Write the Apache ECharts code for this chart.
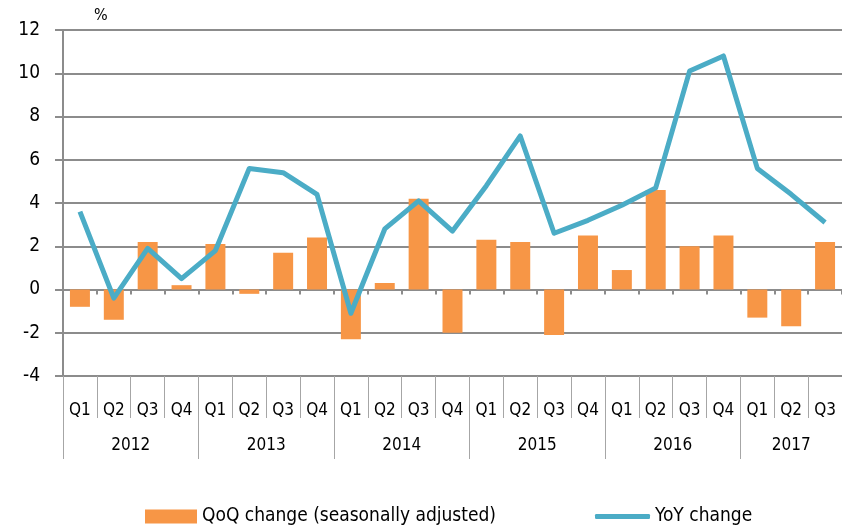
<!DOCTYPE html>
<html>
<head>
<meta charset="utf-8">
<script src="https://cdn.jsdelivr.net/npm/echarts@6/dist/echarts.min.js"></script>
<style>
  html, body { margin: 0; padding: 0; background: #fff; }
  #chart { width: 842px; height: 528px; }
</style>
</head>
<body>
<div id="chart"></div>
<script>
// chart data
const years = ['2012', '2013', '2014', '2015', '2016', '2017'];
const quartersPerYear = [4, 4, 4, 4, 4, 3];
const qoq = [-0.8, -1.4, 2.2, 0.2, 2.1, -0.2, 1.7, 2.4, -2.3, 0.3, 4.2, -2.0,
             2.3, 2.2, -2.1, 2.5, 0.9, 4.6, 2.0, 2.5, -1.3, -1.7, 2.2];
const yoy = [3.6, -0.4, 1.9, 0.5, 1.8, 5.6, 5.4, 4.4, -1.1, 2.8, 4.1, 2.7,
             4.8, 7.1, 2.6, 3.2, 3.9, 4.7, 10.1, 10.8, 5.6, 4.4, 3.1];
const yTicks = { min: -4, max: 12, interval: 2 };

// build the category lists
let quarterLabels = [];
let yearOfCat = [];
let yearStart = [];   // first index of each year
let yearLabelIdx = {}; // category index -> year shown there
years.forEach((y, i) => {
    yearStart.push(quarterLabels.length);
    let n = quartersPerYear[i];
    yearLabelIdx[quarterLabels.length + Math.floor((n - 1) / 2)] = y;
    for (let q = 1; q <= n; q++) {
        quarterLabels.push('Q' + q);
        yearOfCat.push(y);
    }
});

const font = "'Liberation Sans Narrow', 'DejaVu Sans Condensed', sans-serif";
const gridGray = '#8c8c8c';
const catCount = quarterLabels.length;

var myChart = echarts.init(document.getElementById('chart'));

var option = {
    backgroundColor: '#ffffff',
    animation: false,
    textStyle: { fontFamily: font },
    grid: { left: 63, right: 0, top: 30, bottom: 152 },
    graphic: [
        {
            type: 'text', left: 94, top: 8,
            style: { text: '%', font: '16px ' + font, fill: '#000' }
        }
    ],
    // two legends so the line key can be drawn as a thick bar
    legend: [
        {
            left: 140, top: 502,
            itemWidth: 52, itemHeight: 14,
            textStyle: { fontSize: 19, color: '#000', fontFamily: font },
            data: [{ name: 'QoQ change (seasonally adjusted)', icon: 'rect' }]
        },
        {
            left: 590, top: 502,
            itemWidth: 55, itemHeight: 5,
            textStyle: { fontSize: 19, color: '#000', fontFamily: font },
            data: [{ name: 'YoY change', icon: 'roundRect' }]
        }
    ],
    xAxis: [
        // axis at zero with small ticks
        {
            type: 'category',
            data: quarterLabels,
            axisLine: { onZero: true, lineStyle: { color: gridGray, width: 2 } },
            axisTick: { show: true, length: 5, lineStyle: { color: gridGray, width: 2 } },
            axisLabel: { show: false }
        },
        // quarter labels at the bottom
        {
            type: 'category',
            data: quarterLabels,
            position: 'bottom',
            axisLine: { onZero: false, show: true, lineStyle: { color: gridGray, width: 2 } },
            axisTick: { show: true, length: 42, interval: 0, lineStyle: { color: '#a6a6a6', width: 1 } },
            axisLabel: { show: true, interval: 0, margin: 26, fontSize: 17, color: '#000', fontFamily: font }
        },
        // year labels
        {
            type: 'category',
            data: yearOfCat,
            position: 'bottom',
            axisLine: { onZero: false, show: false },
            axisTick: {
                show: true, length: 83,
                interval: (idx) => yearStart.includes(idx) || idx === catCount,
                lineStyle: { color: '#a6a6a6', width: 1 }
            },
            axisLabel: {
                show: true, margin: 61, color: '#000', fontSize: 17, fontFamily: font,
                interval: (idx) => yearLabelIdx[idx] !== undefined,
                formatter: (val) => {
                    let n = quartersPerYear[years.indexOf(val)];
                    return n % 2 === 0 ? '{e|' + val + '}' : '{o|' + val + '}';
                },
                rich: {
                    e: { fontSize: 17, fontFamily: font, color: '#000', padding: [0, 0, 0, 34] },
                    o: { fontSize: 17, fontFamily: font, color: '#000' }
                }
            }
        }
    ],
    yAxis: {
        type: 'value',
        min: yTicks.min, max: yTicks.max, interval: yTicks.interval,
        axisLine: { show: true, lineStyle: { color: gridGray, width: 2 } },
        axisTick: { show: true, length: 8, lineStyle: { color: gridGray, width: 2 } },
        axisLabel: { fontSize: 19, color: '#000', margin: 23, fontFamily: font },
        splitLine: { show: true, lineStyle: { color: gridGray, width: 2 } }
    },
    series: [
        {
            name: 'QoQ change (seasonally adjusted)',
            type: 'bar',
            data: qoq,
            barWidth: '59%',
            itemStyle: { color: '#F79646' },
            z: 2
        },
        {
            name: 'YoY change',
            type: 'line',
            data: yoy,
            symbol: 'none',
            lineStyle: { color: '#4BACC6', width: 5, join: 'round' },
            itemStyle: { color: '#4BACC6' },
            z: 3
        }
    ]
};

option && myChart.setOption(option);
</script>
</body>
</html>
